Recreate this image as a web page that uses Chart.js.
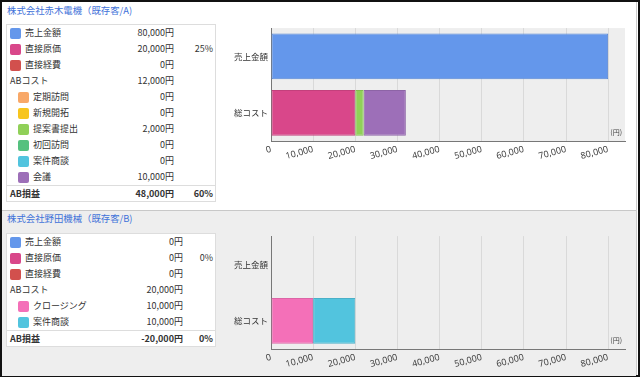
<!DOCTYPE html>
<html><head><meta charset="utf-8">
<script src="https://cdn.jsdelivr.net/npm/chart.js@4/dist/chart.umd.min.js"></script>
<style>
html,body{margin:0;padding:0;width:640px;height:378px;overflow:hidden;background:#fff;font-family:"Noto Sans CJK JP","Noto Sans",sans-serif;}
#frame{position:absolute;left:0;top:0;width:636px;height:373px;border:2px solid #111;box-sizing:content-box;}
#innerR{position:absolute;left:636px;top:2px;width:1px;height:373px;background:#ccc;}
#bottomBg{position:absolute;left:2px;top:210px;width:634px;height:165px;background:#eeeeee;border-top:1px solid #c8c8c8;}
.title{position:absolute;left:7px;font-size:9.4px;color:#3f72d9;line-height:12px;white-space:nowrap;}
.tbl{position:absolute;left:6px;width:208px;border:1px solid #ddd;background:#fff;font-size:9px;color:#333;}
.row{position:relative;height:16px;line-height:16px;white-space:nowrap;}
.row .sq{position:absolute;top:2.5px;width:11px;height:11px;border-radius:2px;}
.row .nm{position:absolute;}
.row .vl{position:absolute;text-align:right;}
.row .pc{position:absolute;right:2px;text-align:right;}
.row.total{font-weight:bold;border-top:1px solid #ddd;height:15px;line-height:15px;}
.cv{position:absolute;left:222px;width:408px;height:150px;}
</style></head>
<body>
<div id="frame"></div>
<div id="innerR"></div>
<div id="bottomBg"></div>
<div class="title" style="top:4px">株式会社赤木電機（既存客/A)</div>
<div class="title" style="top:212px">株式会社野田機械（既存客/B)</div>
<div class="tbl" id="tblA" style="top:24px"></div>
<div class="tbl" id="tblB" style="top:233px"></div>
<div class="cv" style="top:20px"><canvas id="chartA" width="408" height="150"></canvas></div>
<div class="cv" style="top:228px"><canvas id="chartB" width="408" height="150"></canvas></div>
<script>
// ---- data ----
const categories = ['売上金額', '総コスト'];
const xTicks = [0, 10000, 20000, 30000, 40000, 50000, 60000, 70000, 80000];

// Company A
const aNames  = ['売上金額', '直接原価', '直接経費', '定期訪問', '新規開拓', '提案書提出', '初回訪問', '案件商談', '会議'];
const aValues = [80000, 20000, 0, 0, 0, 2000, 0, 0, 10000];
const aColors = ['#6497eb', '#d9478a', '#d2504d', '#f8a868', '#f7c51e', '#90d058', '#55c17f', '#52c4de', '#9d6fb8'];
const aLevel  = [0, 0, 0, 1, 1, 1, 1, 1, 1];
const aABCost = 12000;
const aProfit = 48000;
const aCostPct = '25%';
const aProfitPct = '60%';

// Company B
const bNames  = ['売上金額', '直接原価', '直接経費', 'クロージング', '案件商談'];
const bValues = [0, 0, 0, 10000, 10000];
const bColors = ['#6497eb', '#d9478a', '#d2504d', '#f470b8', '#52c4de'];
const bLevel  = [0, 0, 0, 1, 1];
const bABCost = 20000;
const bProfit = -20000;
const bCostPct = '0%';
const bProfitPct = '0%';

// ---- tables ----
function fmt(v){ return v.toLocaleString('en-US') + '円'; }
function buildTable(el, names, values, colors, levels, abCost, profit, costPct, profitPct, valRight){
  let html = '';
  const addRow = (sq, indent, name, val, pct, cls) => {
    html += '<div class="row ' + (cls||'') + '">';
    if (sq) html += '<span class="sq" style="left:' + (indent ? 11 : 3) + 'px;background:' + sq + '"></span>';
    const nmLeft = sq ? (indent ? 26 : 18) : 3;
    html += '<span class="nm" style="left:' + nmLeft + 'px">' + name + '</span>';
    html += '<span class="vl" style="right:' + (208 - valRight) + 'px">' + val + '</span>';
    if (pct) html += '<span class="pc">' + pct + '</span>';
    html += '</div>';
  };
  let abInserted = false;
  names.forEach((n, i) => {
    if (levels[i] === 1 && !abInserted) { addRow(null, false, 'ABコスト', fmt(abCost), ''); abInserted = true; }
    addRow(colors[i], levels[i] === 1, n, fmt(values[i]), i === 1 ? costPct : '');
  });
  addRow(null, false, 'AB損益', fmt(profit), profitPct, 'total');
  el.innerHTML = html;
}
buildTable(document.getElementById('tblA'), aNames, aValues, aColors, aLevel, aABCost, aProfit, aCostPct, aProfitPct, 167);
buildTable(document.getElementById('tblB'), bNames, bValues, bColors, bLevel, bABCost, bProfit, bCostPct, bProfitPct, 176);

// ---- charts ----
function darken(hex, f){
  const n = parseInt(hex.slice(1), 16);
  const r = Math.round(((n>>16)&255)*f), g = Math.round(((n>>8)&255)*f), b = Math.round((n&255)*f);
  return 'rgb(' + r + ',' + g + ',' + b + ')';
}
function datasetsFor(names, values, colors){
  return names.map((n, i) => ({
    label: n,
    data: i === 0 ? [values[i], null] : [null, values[i]],
    backgroundColor: colors[i],
    borderColor: darken(colors[i], 0.9),
    borderWidth: 1,
    borderSkipped: false,
    barPercentage: 0.81,
    categoryPercentage: 1.0
  }));
}
const plotBg = {
  id: 'plotBg',
  beforeDraw(chart, args, opts){
    if (!opts.color) return;
    const a = chart.chartArea, c = chart.ctx;
    c.save(); c.fillStyle = opts.color; c.fillRect(a.left, a.top, a.right - a.left, a.bottom - a.top); c.restore();
  },
  afterDraw(chart){
    const a = chart.chartArea, c = chart.ctx;
    c.save();
    c.font = '7px "Noto Sans CJK JP"';
    c.fillStyle = '#444';
    c.textAlign = 'right';
    c.textBaseline = 'middle';
    c.fillText('(円)', a.right - 3, a.bottom - 9);
    c.restore();
  }
};
function makeChart(id, names, values, colors, bg){
  return new Chart(document.getElementById(id), {
    type: 'bar',
    data: { labels: categories, datasets: datasetsFor(names, values, colors) },
    options: {
      indexAxis: 'y',
      responsive: false,
      animation: false,
      layout: { padding: { left: 0, right: 5, top: 7, bottom: 0 } },
      plugins: { legend: { display: false }, tooltip: { enabled: false }, plotBg: { color: bg } },
      scales: {
        x: {
          stacked: true,
          min: 0, max: 84000,
          afterBuildTicks: s => { s.ticks = xTicks.map(v => ({ value: v })); },
          afterFit: s => { s.height = 29; },
          grid: { color: '#d9d9d9', drawTicks: false, lineWidth: 1 },
          border: { color: '#777', width: 1 },
          ticks: {
            minRotation: 15, maxRotation: 15, padding: 3, autoSkip: false,
            color: '#444',
            font: { size: 9, family: '"Noto Sans", sans-serif' },
            callback: v => v.toLocaleString('en-US')
          }
        },
        y: {
          stacked: true,
          afterFit: s => { s.width = 49; },
          grid: { display: false, drawTicks: false },
          border: { color: '#777', width: 1 },
          ticks: { color: '#333', padding: 3, font: { size: 8.5, family: '"Noto Sans CJK JP"' } }
        }
      }
    },
    plugins: [plotBg]
  });
}
makeChart('chartA', aNames, aValues, aColors, '#eeeeee');
makeChart('chartB', bNames, bValues, bColors, null);
</script>
</body></html>
